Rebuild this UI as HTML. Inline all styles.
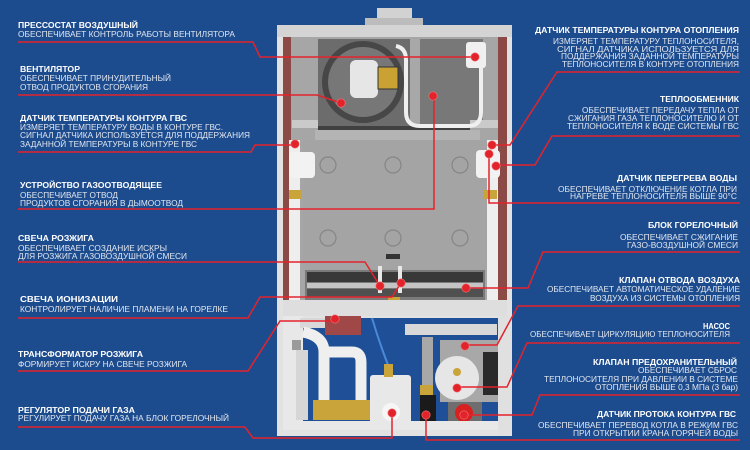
<!DOCTYPE html>
<html><head><meta charset="utf-8"><style>
html,body{margin:0;padding:0;background:#1d4c8e;}
svg{display:block;}
text{font-family:"Liberation Sans",sans-serif;font-size:8px;}
.t{fill:#ffffff;font-weight:bold;}
.s{fill:#e2e7f0;}
.ln{fill:none;stroke:#e3232b;stroke-width:1.5;}
.d{fill:#e3232b;stroke:#f07a7a;stroke-width:0.6;}
</style></head><body>
<svg width="750" height="450" viewBox="0 0 750 450" xmlns="http://www.w3.org/2000/svg">
<rect width="750" height="450" fill="#1d4c8e"/>

<!-- ===== BOILER ===== -->
<rect x="377" y="8" width="35" height="13" fill="#d2d2d2"/>
<rect x="365" y="18" width="58" height="9" fill="#bcbcbc"/>
<rect x="277" y="25" width="235" height="411" fill="#e2e2e2"/>
<rect x="277" y="25" width="235" height="12" fill="#d4d4d4"/>
<rect x="283" y="37" width="8" height="263" fill="#8b4a46"/>
<rect x="498" y="37" width="9" height="263" fill="#8b4a46"/>
<rect x="291" y="37" width="207" height="263" fill="#a6a6a6"/>
<!-- fan panel -->
<rect x="318" y="39" width="92" height="89" fill="#6c6c6c"/>
<circle cx="363" cy="82" r="41" fill="#474747"/>
<circle cx="363" cy="82" r="35" fill="#777777"/>
<rect x="350" y="60" width="28" height="38" rx="6" fill="#e6e6e6"/>
<rect x="378" y="67" width="20" height="22" fill="#c9a233" stroke="#333" stroke-width="1"/>
<rect x="410" y="39" width="10" height="89" fill="#a8a8a8"/>
<rect x="420" y="39" width="63" height="89" fill="#787878"/>
<rect x="292" y="120" width="26" height="8" fill="#cacaca"/>
<rect x="470" y="120" width="28" height="8" fill="#cacaca"/>
<rect x="318" y="126" width="152" height="6" fill="#404040"/>
<!-- white tube -->
<path d="M396,46 Q406,48 406,60 V112 Q406,126 420,126 H468 Q481,126 481,112 V62" fill="none" stroke="#efefef" stroke-width="4"/>
<rect x="466" y="42" width="20" height="26" rx="3" fill="#f0f0f0"/>
<!-- heat exchanger -->
<rect x="315" y="130" width="165" height="10" fill="#b4b4b4"/>
<rect x="303" y="140" width="185" height="132" fill="#a4a4a4"/>
<g fill="none" stroke="#858585" stroke-width="1.2">
<circle cx="328" cy="165" r="8"/><circle cx="393" cy="165" r="8"/><circle cx="460" cy="165" r="8"/>
<circle cx="328" cy="238" r="8"/><circle cx="393" cy="238" r="8"/><circle cx="460" cy="238" r="8"/>
</g>
<rect x="386" y="254" width="14" height="5" fill="#333"/>
<!-- side pipes -->
<rect x="289" y="140" width="11" height="160" fill="#eeeeee"/>
<rect x="289" y="152" width="26" height="26" rx="4" fill="#f2f2f2"/>
<rect x="289" y="190" width="13" height="9" fill="#c9a43a"/>
<rect x="487" y="140" width="11" height="160" fill="#eeeeee"/>
<rect x="476" y="150" width="24" height="28" rx="4" fill="#f2f2f2"/>
<rect x="484" y="190" width="13" height="9" fill="#c9a43a"/>
<!-- burner -->
<rect x="305" y="270" width="180" height="30" fill="#7a7a7a"/>
<rect x="307" y="272" width="176" height="10" fill="#383838"/>
<rect x="307" y="283" width="176" height="5" fill="#c4c4c4"/>
<rect x="307" y="289" width="176" height="8" fill="#505050"/>
<rect x="378" y="266" width="4" height="27" fill="#e8e8e8"/>
<rect x="398" y="266" width="4" height="27" fill="#e8e8e8"/>
<rect x="388" y="297" width="12" height="4" fill="#c9a43a"/>
<!-- bottom bar -->
<rect x="283" y="300" width="224" height="16" fill="#dedede"/>
<!-- lower section -->
<rect x="303" y="318" width="195" height="104" fill="#1f4f96"/>
<rect x="283" y="316" width="20" height="114" fill="#e8e8e8"/>
<rect x="292" y="340" width="9" height="10" fill="#9a9a9a"/>
<rect x="296" y="350" width="12" height="70" fill="#d6d6d6"/>
<rect x="325" y="316" width="36" height="19" fill="#a04848"/>
<rect x="300" y="318" width="25" height="10" fill="#d8d8d8"/>
<rect x="405" y="324" width="92" height="11" fill="#d8d8d8"/>
<path d="M303,332 Q324,336 324,352 V402" fill="none" stroke="#efefef" stroke-width="11"/>
<path d="M324,352 H352 Q361,352 361,362 V402" fill="none" stroke="#efefef" stroke-width="11"/>
<rect x="422" y="337" width="11" height="53" fill="#a8a8a8"/>
<path d="M372,318 Q380,345 390,370" fill="none" stroke="#4a8ad8" stroke-width="2"/>
<rect x="370" y="375" width="41" height="50" rx="3" fill="#e8e8e8"/>
<circle cx="391" cy="412" r="9" fill="#f6f6f6"/>
<rect x="384" y="364" width="9" height="13" fill="#c9a43a"/>
<rect x="313" y="400" width="57" height="20" fill="#c9a43a"/>
<rect x="420" y="385" width="13" height="10" fill="#c9a43a"/>
<rect x="420" y="395" width="16" height="30" fill="#1a1a1a"/>
<rect x="440" y="340" width="58" height="62" fill="#a8a8a8"/>
<circle cx="457" cy="378" r="22" fill="#e6e6e6"/>
<circle cx="457" cy="372" r="4" fill="#c9a43a"/>
<rect x="483" y="352" width="24" height="43" fill="#2a2a2a"/>
<rect x="448" y="402" width="34" height="22" fill="#6e6e6e"/>
<circle cx="464" cy="413" r="9" fill="#d82020"/>
<rect x="283" y="421" width="224" height="9" fill="#e8e8e8"/>
<rect x="498" y="316" width="14" height="120" fill="#e0e0e0"/>

<!-- ===== LEADER LINES ===== -->
<path class="ln" d="M18,42 H253 L260,57 H475"/>
<path class="ln" d="M18,95 H317 L341,103"/>
<path class="ln" d="M18,152 H251 L255,145 H295"/>
<path class="ln" d="M18,209 H434 V96"/>
<path class="ln" d="M18,262 H365 L380,286"/>
<path class="ln" d="M18,318 H248 L260,297 H392 L401,283"/>
<path class="ln" d="M18,371 H248 L280,321 H335"/>
<path class="ln" d="M18,427 H245 L253,438 H392 V413"/>
<path class="ln" d="M740,72 H557 L510,145 H492"/>
<path class="ln" d="M740,136 H552 L535,165 H496"/>
<path class="ln" d="M740,203 H489 V154"/>
<path class="ln" d="M740,252 H543 L528,288 H466"/>
<path class="ln" d="M740,306 H518 L497,345 H465"/>
<path class="ln" d="M740,343 H527 L507,387 H457"/>
<path class="ln" d="M740,395 H540 L532,415 H464"/>
<path class="ln" d="M740,440 H426 V415"/>
<g class="d">
<circle cx="475" cy="57" r="4.2"/><circle cx="341" cy="103" r="4.2"/><circle cx="295" cy="144" r="4.2"/>
<circle cx="433" cy="96" r="4.2"/><circle cx="380" cy="286" r="4.2"/><circle cx="401" cy="283" r="4.2"/>
<circle cx="335" cy="319" r="4.2"/><circle cx="392" cy="413" r="4.2"/>
<circle cx="492" cy="145" r="4.2"/><circle cx="496" cy="166" r="4.2"/><circle cx="489" cy="154" r="4.2"/>
<circle cx="466" cy="288" r="4.2"/><circle cx="465" cy="346" r="4.2"/><circle cx="457" cy="388" r="4.2"/>
<circle cx="464" cy="415" r="4.2"/><circle cx="426" cy="415" r="4.2"/>
</g>

<!-- ===== LEFT LABELS ===== -->
<text class="t" x="18" y="28" textLength="120" lengthAdjust="spacingAndGlyphs">ПРЕССОСТАТ ВОЗДУШНЫЙ</text>
<text class="s" x="18" y="37" textLength="217" lengthAdjust="spacingAndGlyphs">ОБЕСПЕЧИВАЕТ КОНТРОЛЬ РАБОТЫ ВЕНТИЛЯТОРА</text>

<text class="t" x="20" y="72" textLength="60" lengthAdjust="spacingAndGlyphs">ВЕНТИЛЯТОР</text>
<text class="s" x="20" y="81" textLength="151" lengthAdjust="spacingAndGlyphs">ОБЕСПЕЧИВАЕТ ПРИНУДИТЕЛЬНЫЙ</text>
<text class="s" x="20" y="90" textLength="128" lengthAdjust="spacingAndGlyphs">ОТВОД ПРОДУКТОВ СГОРАНИЯ</text>

<text class="t" x="20" y="121" textLength="167" lengthAdjust="spacingAndGlyphs">ДАТЧИК ТЕМПЕРАТУРЫ КОНТУРА ГВС</text>
<text class="s" x="20" y="130" textLength="203" lengthAdjust="spacingAndGlyphs">ИЗМЕРЯЕТ ТЕМПЕРАТУРУ ВОДЫ В КОНТУРЕ ГВС.</text>
<text class="s" x="20" y="138" textLength="230" lengthAdjust="spacingAndGlyphs">СИГНАЛ ДАТЧИКА ИСПОЛЬЗУЕТСЯ ДЛЯ ПОДДЕРЖАНИЯ</text>
<text class="s" x="20" y="147" textLength="177" lengthAdjust="spacingAndGlyphs">ЗАДАННОЙ ТЕМПЕРАТУРЫ В КОНТУРЕ ГВС</text>

<text class="t" x="20" y="188" textLength="142" lengthAdjust="spacingAndGlyphs">УСТРОЙСТВО ГАЗООТВОДЯЩЕЕ</text>
<text class="s" x="20" y="198" textLength="98" lengthAdjust="spacingAndGlyphs">ОБЕСПЕЧИВАЕТ ОТВОД</text>
<text class="s" x="20" y="206" textLength="163" lengthAdjust="spacingAndGlyphs">ПРОДУКТОВ СГОРАНИЯ В ДЫМООТВОД</text>

<text class="t" x="18" y="241" textLength="76" lengthAdjust="spacingAndGlyphs">СВЕЧА РОЗЖИГА</text>
<text class="s" x="18" y="251" textLength="149" lengthAdjust="spacingAndGlyphs">ОБЕСПЕЧИВАЕТ СОЗДАНИЕ ИСКРЫ</text>
<text class="s" x="18" y="259" textLength="169" lengthAdjust="spacingAndGlyphs">ДЛЯ РОЗЖИГА ГАЗОВОЗДУШНОЙ СМЕСИ</text>

<text class="t" x="20" y="302" textLength="98" lengthAdjust="spacingAndGlyphs">СВЕЧА ИОНИЗАЦИИ</text>
<text class="s" x="20" y="312" textLength="208" lengthAdjust="spacingAndGlyphs">КОНТРОЛИРУЕТ  НАЛИЧИЕ ПЛАМЕНИ НА ГОРЕЛКЕ</text>

<text class="t" x="18" y="357" textLength="125" lengthAdjust="spacingAndGlyphs">ТРАНСФОРМАТОР РОЗЖИГА</text>
<text class="s" x="18" y="367" textLength="169" lengthAdjust="spacingAndGlyphs">ФОРМИРУЕТ ИСКРУ НА СВЕЧЕ РОЗЖИГА</text>

<text class="t" x="18" y="413" textLength="117" lengthAdjust="spacingAndGlyphs">РЕГУЛЯТОР ПОДАЧИ ГАЗА</text>
<text class="s" x="18" y="421" textLength="211" lengthAdjust="spacingAndGlyphs">РЕГУЛИРУЕТ ПОДАЧУ ГАЗА НА БЛОК ГОРЕЛОЧНЫЙ</text>

<!-- ===== RIGHT LABELS ===== -->
<text class="t" x="535" y="33" textLength="204" lengthAdjust="spacingAndGlyphs">ДАТЧИК ТЕМПЕРАТУРЫ КОНТУРА ОТОПЛЕНИЯ</text>
<text class="s" x="553" y="44" textLength="186" lengthAdjust="spacingAndGlyphs">ИЗМЕРЯЕТ ТЕМПЕРАТУРУ ТЕПЛОНОСИТЕЛЯ,</text>
<text class="s" x="557" y="52" textLength="182" lengthAdjust="spacingAndGlyphs">СИГНАЛ ДАТЧИКА ИСПОЛЬЗУЕТСЯ ДЛЯ</text>
<text class="s" x="561" y="59" textLength="178" lengthAdjust="spacingAndGlyphs">ПОДДЕРЖАНИЯ ЗАДАННОЙ ТЕМПЕРАТУРЫ</text>
<text class="s" x="562" y="67" textLength="177" lengthAdjust="spacingAndGlyphs">ТЕПЛОНОСИТЕЛЯ В КОНТУРЕ ОТОПЛЕНИЯ</text>

<text class="t" x="660" y="102" textLength="79" lengthAdjust="spacingAndGlyphs">ТЕПЛООБМЕННИК</text>
<text class="s" x="582" y="113" textLength="157" lengthAdjust="spacingAndGlyphs">ОБЕСПЕЧИВАЕТ ПЕРЕДАЧУ ТЕПЛА ОТ</text>
<text class="s" x="568" y="121" textLength="171" lengthAdjust="spacingAndGlyphs">СЖИГАНИЯ ГАЗА ТЕПЛОНОСИТЕЛЮ И ОТ</text>
<text class="s" x="567" y="129" textLength="172" lengthAdjust="spacingAndGlyphs">ТЕПЛОНОСИТЕЛЯ К ВОДЕ СИСТЕМЫ ГВС</text>

<text class="t" x="617" y="181" textLength="120" lengthAdjust="spacingAndGlyphs">ДАТЧИК ПЕРЕГРЕВА ВОДЫ</text>
<text class="s" x="558" y="192" textLength="179" lengthAdjust="spacingAndGlyphs">ОБЕСПЕЧИВАЕТ ОТКЛЮЧЕНИЕ КОТЛА ПРИ</text>
<text class="s" x="570" y="199" textLength="167" lengthAdjust="spacingAndGlyphs">НАГРЕВЕ ТЕПЛОНОСИТЕЛЯ ВЫШЕ 90°С</text>

<text class="t" x="648" y="228" textLength="90" lengthAdjust="spacingAndGlyphs">БЛОК ГОРЕЛОЧНЫЙ</text>
<text class="s" x="620" y="240" textLength="118" lengthAdjust="spacingAndGlyphs">ОБЕСПЕЧИВАЕТ СЖИГАНИЕ</text>
<text class="s" x="627" y="248" textLength="111" lengthAdjust="spacingAndGlyphs">ГАЗО-ВОЗДУШНОЙ СМЕСИ</text>

<text class="t" x="619" y="283" textLength="121" lengthAdjust="spacingAndGlyphs">КЛАПАН ОТВОДА ВОЗДУХА</text>
<text class="s" x="547" y="292" textLength="193" lengthAdjust="spacingAndGlyphs">ОБЕСПЕЧИВАЕТ АВТОМАТИЧЕСКОЕ УДАЛЕНИЕ</text>
<text class="s" x="590" y="301" textLength="150" lengthAdjust="spacingAndGlyphs">ВОЗДУХА ИЗ СИСТЕМЫ ОТОПЛЕНИЯ</text>

<text class="t" x="703" y="329" textLength="27" lengthAdjust="spacingAndGlyphs">НАСОС</text>
<text class="s" x="530" y="337" textLength="200" lengthAdjust="spacingAndGlyphs">ОБЕСПЕЧИВАЕТ  ЦИРКУЛЯЦИЮ ТЕПЛОНОСИТЕЛЯ</text>

<text class="t" x="593" y="365" textLength="144" lengthAdjust="spacingAndGlyphs">КЛАПАН ПРЕДОХРАНИТЕЛЬНЫЙ</text>
<text class="s" x="638" y="373" textLength="99" lengthAdjust="spacingAndGlyphs">ОБЕСПЕЧИВАЕТ СБРОС</text>
<text class="s" x="544" y="382" textLength="194" lengthAdjust="spacingAndGlyphs">ТЕПЛОНОСИТЕЛЯ ПРИ ДАВЛЕНИИ В СИСТЕМЕ</text>
<text class="s" x="595" y="390" textLength="143" lengthAdjust="spacingAndGlyphs">ОТОПЛЕНИЯ ВЫШЕ 0,3 МПа (3 бар)</text>

<text class="t" x="597" y="417" textLength="139" lengthAdjust="spacingAndGlyphs">ДАТЧИК ПРОТОКА КОНТУРА ГВС</text>
<text class="s" x="538" y="428" textLength="200" lengthAdjust="spacingAndGlyphs">ОБЕСПЕЧИВАЕТ ПЕРЕВОД КОТЛА В РЕЖИМ ГВС</text>
<text class="s" x="573" y="436" textLength="165" lengthAdjust="spacingAndGlyphs">ПРИ ОТКРЫТИИ КРАНА ГОРЯЧЕЙ ВОДЫ</text>
</svg>
</body></html>
